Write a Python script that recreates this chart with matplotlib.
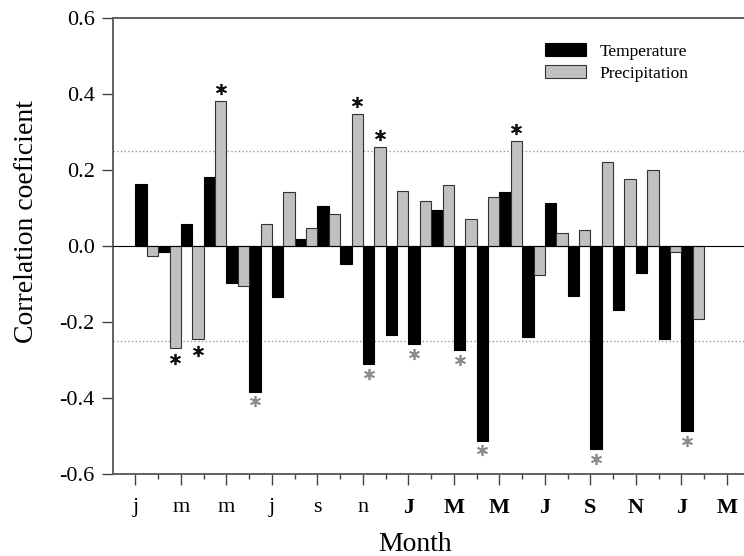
import matplotlib.pyplot as plt
import numpy as np

plt.rcParams['font.family'] = ['Liberation Serif', 'DejaVu Serif']

# months 1..25 (previous year Jan .. current year Jan of following year)
months = np.arange(1, 26)
temperature = [0.164, -0.016, 0.058, 0.183, -0.097, -0.383, -0.135, 0.019, 0.106, -0.048,
               -0.311, -0.235, -0.258, 0.096, -0.274, -0.512, 0.143, -0.239, 0.112, -0.131,
               -0.534, -0.169, -0.071, -0.246, -0.487]
precipitation = [-0.026, -0.268, -0.246, 0.382, -0.104, 0.057, 0.142, 0.048, 0.085, 0.348,
                 0.260, 0.146, 0.118, 0.160, 0.071, 0.129, 0.276, -0.077, 0.033, 0.042,
                 0.220, 0.176, 0.199, -0.017, -0.192]
# significant months (marked with asterisks)
temp_sig = [6, 11, 13, 15, 16, 21, 25]
prec_sig = [2, 3, 4, 10, 11, 17]

tick_months = np.arange(1, 28, 2)
tick_labels = ['j', 'm', 'm', 'j', 's', 'n', 'J', 'M', 'M', 'J', 'S', 'N', 'J', 'M']

fig = plt.figure(figsize=(7.44, 5.56), dpi=100)
ax = fig.add_axes([0.1515, 0.1475, 0.856, 0.820])

w = 0.5
t = np.array(temperature)
p = np.array(precipitation)
ax.bar(months + w / 2, t, width=w, color='black', edgecolor='black', linewidth=0.8,
       label='Temperature', zorder=3)
ax.bar(months + w * 1.5, p, width=w, color='#c0c0c0', edgecolor='#333333', linewidth=0.8,
       label='Precipitation', zorder=3)

# significance markers
star = dict(marker=(6, 2, 0), markersize=8, markeredgewidth=1.25, linestyle='none', zorder=5)
pi = np.array(prec_sig) - 1
py = np.where(p[pi] > 0, p[pi] + 0.032, p[pi] - 0.03)
ax.plot(np.array(prec_sig) + w * 1.5, py, color='#111111', **star)
ti = np.array(temp_sig) - 1
ax.plot(np.array(temp_sig) + w / 2, t[ti] - 0.026, color='#8c8c8c', **star)

# significance thresholds
for y in (0.25, -0.25):
    ax.axhline(y, color='#999999', linestyle=':', linewidth=1.0, zorder=1)
ax.axhline(0, color='black', linewidth=0.8, zorder=4)

ax.set_xlim(0, 28)
ax.set_ylim(-0.6, 0.6)
ax.set_yticks(np.arange(-0.6, 0.61, 0.2))
ax.set_yticklabels(['-0.6', '-0.4', '-0.2', '0.0', '0.2', '0.4', '0.6'], fontsize=16)
ax.set_xticks(tick_months)
ax.set_xticklabels(tick_labels, fontsize=16)
for lbl in ax.get_xticklabels()[6:]:
    lbl.set_fontweight('bold')
ax.set_xticks(np.arange(2, 28, 2), minor=True)
ax.tick_params(axis='both', which='major', direction='out', length=8, width=1, pad=5,
               color='#444444')
ax.tick_params(axis='x', which='major', pad=9)
ax.tick_params(axis='x', which='minor', direction='out', length=3.5, width=1, color='#444444')

for s in ax.spines.values():
    s.set_color('#555555')
    s.set_linewidth(1.3)

ax.set_xlabel('Month', fontsize=20)
ax.set_ylabel('Correlation coeficient', fontsize=20)
ax.xaxis.set_label_coords(0.474, -0.128)
ax.yaxis.set_label_coords(-0.116, 0.553)

ax.legend(loc='upper left', bbox_to_anchor=(0.678, 0.945), frameon=False, fontsize=12.5,
          handlelength=2.4, handleheight=0.8, handletextpad=0.75, labelspacing=0.3,
          borderpad=0, borderaxespad=0)

plt.savefig('out.png', dpi=100)
